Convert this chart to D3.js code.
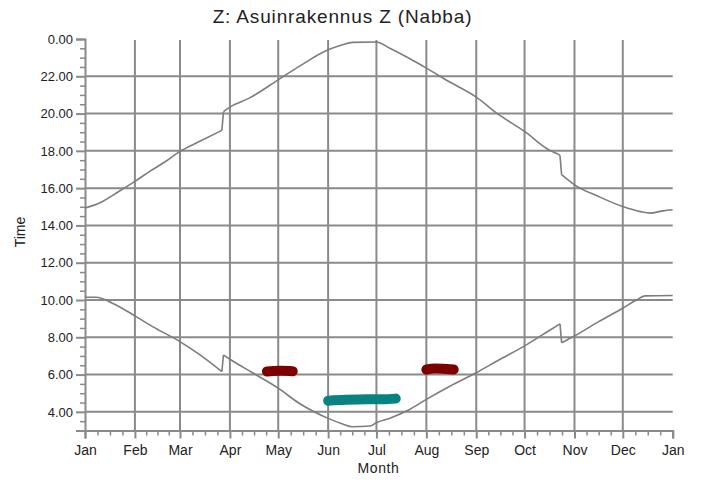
<!DOCTYPE html>
<html>
<head>
<meta charset="utf-8">
<script src="https://cdn.jsdelivr.net/npm/d3@7"></script>
<style>
  html, body { margin: 0; padding: 0; background: #fff; }
  svg { display: block; font-family: "Liberation Sans", Arial, sans-serif; }
</style>
</head>
<body>
<svg id="chart" width="701" height="482"></svg>
<script>
// ---- data ----
const title = "Z: Asuinrakennus Z (Nabba)";
const xTitle = "Month";
const yTitle = "Time";
const monthLabels = ["Jan","Feb","Mar","Apr","May","Jun","Jul","Aug","Sep","Oct","Nov","Dec","Jan"];
const yTickValues = [4, 6, 8, 10, 12, 14, 16, 18, 20, 22, 24];
const yTickLabels = ["4.00","6.00","8.00","10.00","12.00","14.00","16.00","18.00","20.00","22.00","0.00"];

// upper line (evening)
const eveningDates = ["2021-01-01","2021-01-10","2021-01-22","2021-02-01","2021-02-10","2021-02-20","2021-03-01","2021-03-13","2021-03-27","2021-03-28","2021-04-01","2021-04-13","2021-05-01","2021-05-14","2021-06-01","2021-06-10","2021-06-16","2021-07-01","2021-07-09","2021-07-21","2021-08-01","2021-08-15","2021-09-01","2021-09-15","2021-10-01","2021-10-16","2021-10-22","2021-10-23","2021-10-24","2021-11-01","2021-11-16","2021-12-01","2021-12-12","2021-12-18","2021-12-26","2022-01-01"];
const eveningValues = [14.93,15.20,15.82,16.36,16.89,17.43,17.97,18.50,19.10,20.10,20.35,20.83,21.81,22.53,23.42,23.69,23.82,23.84,23.52,22.98,22.44,21.72,20.88,19.94,19.04,18.06,17.82,17.75,16.72,16.18,15.55,15.01,14.74,14.66,14.78,14.84];

// lower line (morning)
const morningDates = ["2021-01-01","2021-01-08","2021-01-18","2021-02-01","2021-02-12","2021-03-01","2021-03-13","2021-03-27","2021-03-28","2021-04-01","2021-04-15","2021-05-01","2021-05-14","2021-06-01","2021-06-10","2021-06-16","2021-06-27","2021-07-01","2021-07-09","2021-07-21","2021-08-01","2021-08-15","2021-09-01","2021-09-15","2021-10-01","2021-10-12","2021-10-23","2021-10-24","2021-11-01","2021-11-16","2021-12-01","2021-12-09","2021-12-15","2022-01-01"];
const morningValues = [10.15,10.15,9.83,9.15,8.57,7.77,7.08,6.16,7.05,6.82,6.10,5.27,4.46,3.65,3.35,3.20,3.24,3.42,3.65,4.10,4.67,5.35,6.10,6.78,7.54,8.13,8.72,7.71,8.07,8.84,9.56,9.97,10.22,10.24];

// marked periods
const red1Dates = ["2021-04-24","2021-04-28","2021-05-03","2021-05-10"];
const red1Values = [6.17,6.19,6.20,6.18];
const tealDates = ["2021-06-01","2021-06-12","2021-06-25","2021-07-05","2021-07-13"];
const tealValues = [4.60,4.65,4.68,4.67,4.71];
const red2Dates = ["2021-08-01","2021-08-06","2021-08-11","2021-08-18"];
const red2Values = [6.27,6.32,6.31,6.27];

// ---- drawing ----
const svg = d3.select("#chart");
const parse = d3.timeParse("%Y-%m-%d");
const mLeft = 85, mRight = 672.7, mTop = 39, mBottom = 430.5;

const x = d3.scaleTime()
  .domain([parse("2021-01-01"), parse("2022-01-01")])
  .range([mLeft, mRight]);
const y = d3.scaleLinear().domain([3, 24]).range([mBottom, mTop]);

const gridColor = "#8a8a8a";
const textColor = "#222";

// horizontal grid
svg.append("g").selectAll("line")
  .data(yTickValues.filter(v => v < 24))
  .join("line")
  .attr("x1", mLeft).attr("x2", mRight)
  .attr("y1", d => y(d)).attr("y2", d => y(d))
  .attr("stroke", gridColor).attr("stroke-width", 2);

// vertical grid (months)
const monthDates = d3.timeMonth.range(parse("2021-01-01"), parse("2022-01-02"));
svg.append("g").selectAll("line")
  .data(monthDates.slice(1, 12))
  .join("line")
  .attr("x1", d => x(d)).attr("x2", d => x(d))
  .attr("y1", mTop + 1).attr("y2", mBottom)
  .attr("stroke", gridColor).attr("stroke-width", 2);

// x axis
const xAxisG = svg.append("g").attr("transform", `translate(0,${mBottom})`);
const minorX = [];
monthDates.slice(0, 12).forEach(m => {
  const n = d3.timeDay.count(m, d3.timeMonth.offset(m, 1));
  [0.25, 0.5, 0.75].forEach(f => minorX.push(d3.timeHour.offset(m, Math.round(n * f * 24))));
});
xAxisG.call(d3.axisBottom(x).tickValues(minorX).tickSize(5).tickFormat(""))
  .call(g => g.select(".domain").remove())
  .call(g => g.selectAll(".tick line").attr("stroke", gridColor).attr("stroke-width", 1.5));
const xMajor = svg.append("g").attr("transform", `translate(0,${mBottom})`)
  .call(d3.axisBottom(x).tickValues(monthDates).tickSize(8).tickPadding(7)
    .tickFormat((d, i) => monthLabels[i]));
xMajor.select(".domain").attr("stroke", gridColor).attr("stroke-width", 2);
xMajor.selectAll(".tick line").attr("stroke", gridColor).attr("stroke-width", 2);
xMajor.selectAll(".tick text").attr("fill", textColor).attr("font-size", 14)
  .attr("font-family", "Liberation Sans, Arial, sans-serif");

// y axis
const minorY = d3.range(3, 24.01, 0.5).filter(v => v % 2 !== 0);
svg.append("g").attr("transform", `translate(${mLeft},0)`)
  .call(d3.axisLeft(y).tickValues(minorY).tickSize(5).tickFormat(""))
  .call(g => g.select(".domain").remove())
  .call(g => g.selectAll(".tick line").attr("stroke", gridColor).attr("stroke-width", 1.5));
const yAx = svg.append("g").attr("transform", `translate(${mLeft},0)`)
  .call(d3.axisLeft(y).tickValues(yTickValues).tickSize(9).tickPadding(3)
    .tickFormat((d, i) => yTickLabels[i]));
yAx.select(".domain").attr("stroke", gridColor).attr("stroke-width", 2);
yAx.selectAll(".tick line").attr("stroke", gridColor).attr("stroke-width", 2);
yAx.selectAll(".tick text").attr("fill", textColor).attr("font-size", 13)
  .attr("font-family", "Liberation Sans, Arial, sans-serif");

// lines
const smooth = d3.line().x(d => x(d[0])).y(d => y(d[1])).curve(d3.curveMonotoneX);
const straight = d3.line().x(d => x(d[0])).y(d => y(d[1]));
function series(dates, vals) { return dates.map((d, i) => [parse(d), vals[i]]); }

// split at one-day jumps (clock changes): smooth pieces + straight jump segments
function drawStepped(data) {
  const g = svg.append("g").attr("fill", "none").attr("stroke", "#7d7d7d").attr("stroke-width", 1.6);
  let seg = [data[0]];
  for (let i = 1; i < data.length; i++) {
    const gap = d3.timeDay.count(data[i - 1][0], data[i][0]);
    if (gap <= 1) {
      g.append("path").attr("d", smooth(seg));
      g.append("path").attr("d", straight([data[i - 1], data[i]]));
      seg = [data[i]];
    } else {
      seg.push(data[i]);
    }
  }
  g.append("path").attr("d", smooth(seg));
}
drawStepped(series(eveningDates, eveningValues));
drawStepped(series(morningDates, morningValues));

// marked periods
[[red1Dates, red1Values, "#7c0000"], [tealDates, tealValues, "#0b8282"], [red2Dates, red2Values, "#7c0000"]]
  .forEach(([ds, vs, c]) => {
    svg.append("path").datum(series(ds, vs))
      .attr("d", smooth)
      .attr("fill", "none").attr("stroke", c).attr("stroke-width", 10)
      .attr("stroke-linecap", "round").attr("stroke-linejoin", "round");
  });

// titles
svg.append("text").attr("x", 342.5).attr("y", 23).attr("text-anchor", "middle")
  .attr("font-size", 19).attr("letter-spacing", 0.85).attr("fill", textColor).text(title);
svg.append("text").attr("x", 378.5).attr("y", 473).attr("text-anchor", "middle")
  .attr("font-size", 14).attr("letter-spacing", 0.6).attr("fill", textColor).text(xTitle);
svg.append("text").attr("transform", "translate(25,232) rotate(-90)").attr("text-anchor", "middle")
  .attr("font-size", 14).attr("fill", textColor).text(yTitle);
</script>
</body>
</html>
